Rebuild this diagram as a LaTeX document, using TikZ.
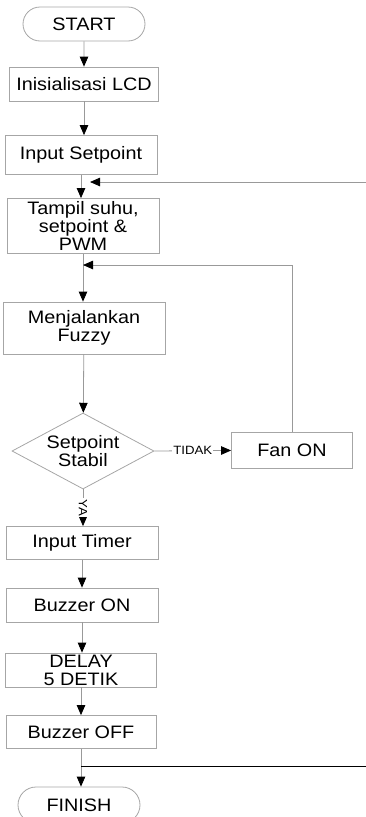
\documentclass[tikz,border=0pt]{standalone}
\usepackage{fontspec}
\setmainfont{Liberation Sans}[FakeStretch=1.1]
\usetikzlibrary{arrows.meta,shapes.geometric,shapes.misc,calc}

\begin{document}
\begin{tikzpicture}[x=1pt,y=-1pt,
    proses/.style={
        rectangle,
        draw=gray!70,
        line width=0.8pt,
        align=center,
        inner sep=0pt,
        font=\fontsize{18}{18}\selectfont
    },
    terminal/.style={
        rounded rectangle,
        draw=gray!70,
        line width=0.8pt,
        inner sep=0pt,
        font=\fontsize{18}{18}\selectfont
    },
    keputusan/.style={
        diamond,
        draw=gray!70,
        line width=0.8pt,
        align=center,
        inner sep=0pt,
        aspect=1.87,
        font=\fontsize{18}{18}\selectfont
    },
    alur/.style={
        draw=gray!80,
        line width=0.8pt,
        -{Triangle[color=black,length=10pt,width=8.5pt]}
    },
    label/.style={
        fill=white,
        inner sep=1pt,
        font=\fontsize{12}{12}\selectfont
    }
]
\useasboundingbox (0,0) rectangle (366,817);

% kolom utama
\node[terminal, minimum width=122pt, minimum height=34pt] (start) at (84,24) {START};
\node[proses, minimum width=149pt, minimum height=34pt] (lcd) at (84,84) {Inisialisasi LCD};
\node[proses, minimum width=152pt, minimum height=39pt] (setpoint) at (81,155) {Input Setpoint};
\node[proses, minimum width=152pt, minimum height=55pt] (tampil) at (83,226) {Tampil suhu,\\setpoint \&\\PWM};
\node[proses, minimum width=162pt, minimum height=52pt] (fuzzy) at (84,328) {Menjalankan\\Fuzzy};
\node[keputusan, minimum width=142pt, minimum height=76pt] (stabil) at (83,451) {Setpoint\\Stabil};
\node[proses, minimum width=121pt, minimum height=36pt] (fan) at (292,450) {Fan ON};
\node[proses, minimum width=152pt, minimum height=33pt] (timer) at (82,543) {Input Timer};
\node[proses, minimum width=152pt, minimum height=34pt] (buzzon) at (82,605) {Buzzer ON};
\node[proses, minimum width=151pt, minimum height=34pt] (delay) at (81,670) {DELAY\\5 DETIK};
\node[proses, minimum width=150pt, minimum height=33pt] (buzzoff) at (81,732) {Buzzer OFF};
\node[terminal, minimum width=122pt, minimum height=36pt] (finish) at (79,805) {FINISH};

% titik bantu
\coordinate (ujung1) at (366,182);
\coordinate (gabung1) at (84,182);
\coordinate (kembali) at (83,265);
\coordinate (gabung2) at (81,766);
\coordinate (ujung2) at (366,766);

% panah
\draw[alur] (start) -- (lcd);
\draw[alur] (lcd) -- (lcd |- setpoint.north);
\draw[alur] (setpoint) -- (setpoint |- tampil.north);
\draw[alur, shorten >=6pt] (ujung1) -- (gabung1);
\draw[alur] (tampil) -- (tampil |- fuzzy.north);
\draw[alur] (fan.north) |- (kembali);
\draw[alur] (fuzzy) -- (stabil);
\draw[alur] (stabil.east) -- node[label] {TIDAK} (fan);
\draw[alur] (stabil.south) -- node[label, rotate=-90] {YA} (stabil.south |- timer.north);
\draw[alur] (timer) -- (buzzon);
\draw[alur] (buzzon) -- (buzzon |- delay.north);
\draw[alur] (delay) -- (buzzoff);
\draw[alur] (buzzoff) -- (buzzoff |- finish.north);
\draw[black, line width=0.8pt] (gabung2) -- (ujung2);

\end{tikzpicture}
\end{document}
